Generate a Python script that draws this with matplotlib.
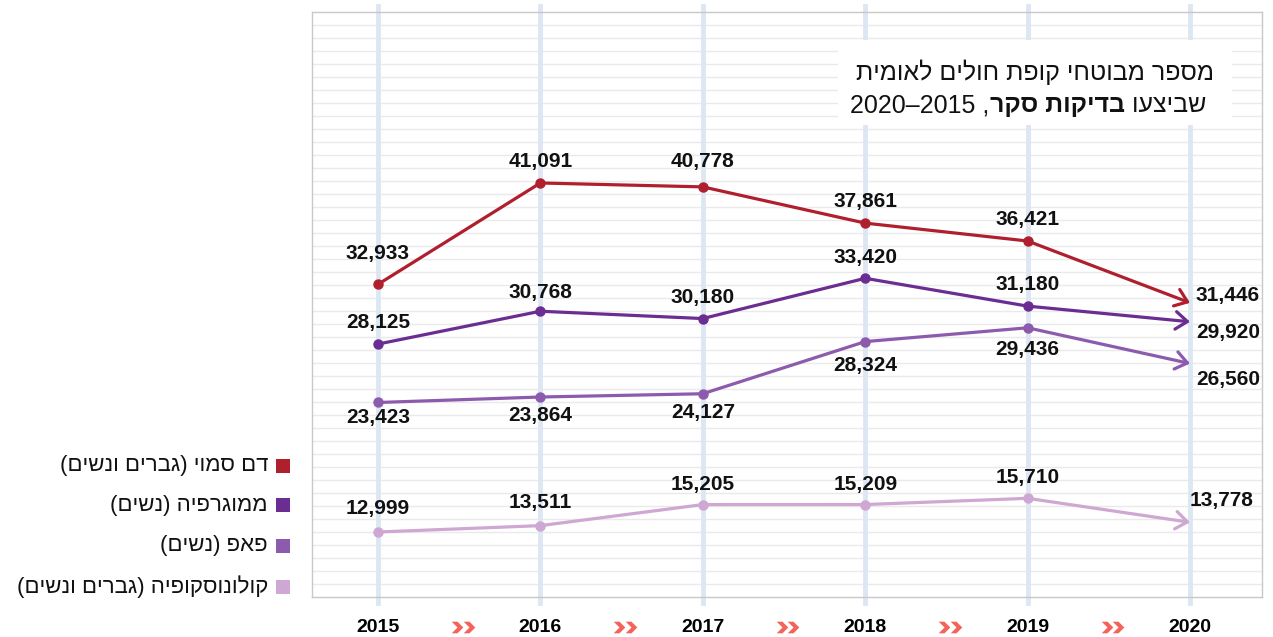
import numpy as np
import matplotlib.pyplot as plt
from matplotlib.path import Path
from matplotlib.patches import Rectangle

# -------------------------------
# DATA
# -------------------------------
years = [2015, 2016, 2017, 2018, 2019, 2020]
year_labels = ['2015', '2016', '2017', '2018', '2019', '2020']
dem = [32933, 41091, 40778, 37861, 36421, 31446]
mammo = [28125, 30768, 30180, 33420, 31180, 29920]
pap = [23423, 23864, 24127, 28324, 29436, 26560]
colon = [12999, 13511, 15205, 15209, 15710, 13778]
names = ['דם סמוי (גברים ונשים)', 'ממוגרפיה (נשים)', 'פאפ (נשים)',
         'קולונוסקופיה (גברים ונשים)']

# -------------------------------
# STYLE
# -------------------------------
colors = ['#B01F2E', '#6B2D92', '#8C5BAD', '#CFA7D3']
# label offsets in pixels (dx, dy) from each point
offsets = [
    [(0, 31), (0, 21), (0, 25), (0, 22), (0, 22), (38, 7)],
    [(0, 22), (0, 19), (0, 21), (0, 21), (0, 22), (38, -11)],
    [(0, -15), (0, -18), (0, -19), (0, -24), (0, -22), (38, -16)],
    [(0, 23), (0, 23), (0, 20), (0, 20), (0, 21), (32, 22)],
]
NUM_FONT = ['Liberation Sans', 'DejaVu Sans']
HEB_FONT = ['Liberation Sans', 'DejaVu Sans']
W, H = 1273, 637


def vis(s):
    # logical RTL -> visual order for matplotlib
    return s[::-1].translate(str.maketrans('()', ')('))


fig = plt.figure(figsize=(W / 100, H / 100), dpi=100)
ax = fig.add_axes([312 / W, 40 / H, 950 / W, 585 / H])
ylo, yhi = 7767, 54854
ax.set_xlim(2014.594, 2020.443)
ax.set_ylim(ylo, yhi)

# horizontal grid
for gy in np.linspace(ylo, yhi, 46)[1:-1]:
    ax.axhline(gy, color='#EAEAEA', lw=1, zorder=0)
for s in ax.spines.values():
    s.set_color('#C8C8C8')
    s.set_linewidth(1)
ax.set_yticks([])

# vertical year bands
for yr in years:
    ax.plot([yr, yr], [-0.01, 1.01], transform=ax.get_xaxis_transform(),
            color='#DDE7F3', lw=3.5, zorder=0.5, clip_on=False)

# -------------------------------
# SERIES
# -------------------------------
series = [dem, mammo, pap, colon]
for vals, col, offs in zip(series, colors, offsets):
    ax.plot(years[:-1], vals[:-1], color=col, lw=2.3, marker='o', ms=6.5,
            zorder=3, solid_capstyle='round')
    ax.annotate('', xy=(years[-1], vals[-1]), xytext=(years[-2], vals[-2]),
                arrowprops=dict(arrowstyle='->, head_length=0.6, head_width=0.45',
                                color=col, lw=2.3, shrinkA=0, shrinkB=0,
                                mutation_scale=14), zorder=3)
    for x, v, (dx, dy) in zip(years, vals, offs):
        ax.annotate(f'{v:,}', xy=(x, v), xytext=(dx, dy),
                    textcoords='offset pixels', ha='center', va='center',
                    fontsize=15, fontweight='bold', family=NUM_FONT,
                    color='#111111', zorder=4)

# x ticks
ax.set_xticks(years)
ax.set_xticklabels(year_labels, fontsize=14, fontweight='bold', family=NUM_FONT)
ax.tick_params(axis='x', length=0, pad=16)

# chevrons between years
chev = Path([(-1, 1), (0, 1), (1, 0), (0, -1), (-1, -1), (0, 0), (-1, 1)],
            [Path.MOVETO] + [Path.LINETO] * 5 + [Path.CLOSEPOLY])
mids = [(a + b) / 2 for a, b in zip(years[:-1], years[1:])]
for shift in (-0.014, 0.058):
    ax.scatter([m + shift for m in mids], [-0.052] * len(mids),
               transform=ax.get_xaxis_transform(), marker=chev, s=70,
               color='#F26459', linewidths=0, clip_on=False, zorder=5)

# -------------------------------
# TITLE BOX
# -------------------------------
ax.add_patch(Rectangle((838 / W, (H - 125) / H), 394 / W, 85 / H,
                       transform=fig.transFigure, facecolor='white',
                       edgecolor='none', zorder=10, clip_on=False))
ax.text(1035 / W, (H - 72) / H, vis('מספר מבוטחי קופת חולים לאומית'),
        transform=fig.transFigure, ha='center', va='center', fontsize=18,
        family=HEB_FONT, color='#111111', zorder=11)
t_right = ax.text(1206 / W, (H - 117) / H, ' ' + vis('שביצעו'),
                  transform=fig.transFigure, ha='right', va='bottom',
                  fontsize=18, family=HEB_FONT, color='#111111', zorder=11)
t_mid = ax.annotate(vis('בדיקות סקר'), xy=(0, 0), xycoords=t_right,
                    ha='right', va='bottom', fontsize=18, fontweight='bold',
                    family=HEB_FONT, color='#111111', zorder=11,
                    annotation_clip=False)
ax.annotate('2020–2015 ,', xy=(0, 0), xycoords=t_mid, ha='right', va='bottom',
            fontsize=18, family=HEB_FONT, color='#111111', zorder=11,
            annotation_clip=False)

# -------------------------------
# LEGEND
# -------------------------------
for name, col, yc in zip(names, colors, [466, 505, 546, 587]):
    fig.add_artist(Rectangle((276 / W, (H - yc - 7) / H), 14 / W, 14 / H,
                             transform=fig.transFigure, facecolor=col,
                             edgecolor='none'))
    fig.text(268 / W, (H - yc) / H, vis(name), ha='right', va='center',
             fontsize=16, family=HEB_FONT, color='#111111')

fig.savefig('out.png', dpi=100, facecolor='white')
